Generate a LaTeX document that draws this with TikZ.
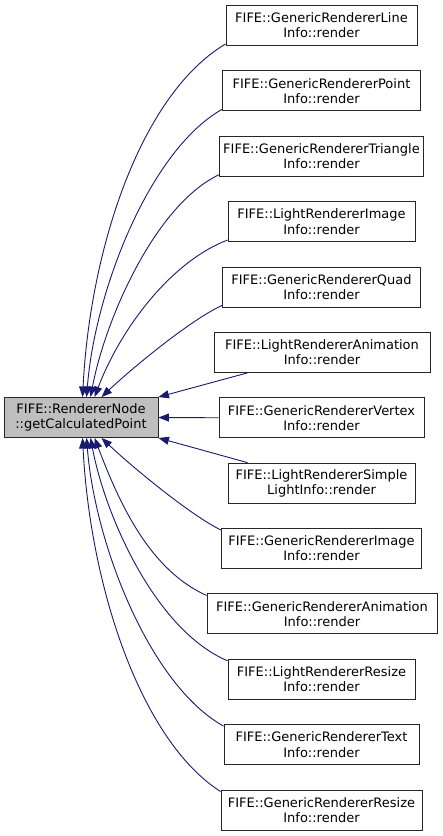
\documentclass[tikz,border=0pt]{standalone}
\usepackage{fontspec}
\setmainfont{DejaVu Sans}
\usetikzlibrary{arrows.meta}
\definecolor{edgecol}{HTML}{191970}
\definecolor{rootfill}{HTML}{BFBFBF}
\tikzset{
  box/.style={draw=black!85, line width=0.9pt, fill=white, align=center,
    minimum height=40pt, inner xsep=2pt, inner ysep=2pt,
    font=\fontsize{13}{15.2}\selectfont},
  rootbox/.style={box, fill=rootfill},
  edge/.style={draw=edgecol, line width=0.9pt,
    -{Triangle[length=10.5pt,width=8pt]}},
}
\begin{document}
\begin{tikzpicture}[x=1pt,y=-1pt]
\useasboundingbox (0,0) rectangle (443,836);
\node[rootbox, minimum width=154pt] (root) at (81,417.5) {FIFE::RendererNode\\::getCalculatedPoint};
\node[box, minimum width=191pt] (n1)  at (321.5,25.5)  {FIFE::GenericRendererLine\\Info::render};
\node[box, minimum width=198pt] (n2)  at (321.5,90.9)  {FIFE::GenericRendererPoint\\Info::render};
\node[box, minimum width=204pt] (n3)  at (321.5,156.25) {FIFE::GenericRendererTriangle\\Info::render};
\node[box, minimum width=187pt] (n4)  at (321.5,221.6) {FIFE::LightRendererImage\\Info::render};
\node[box, minimum width=198pt] (n5)  at (321.5,287)   {FIFE::GenericRendererQuad\\Info::render};
\node[box, minimum width=216pt] (n6)  at (322,352.4)   {FIFE::LightRendererAnimation\\Info::render};
\node[box, minimum width=205pt] (n7)  at (321.5,417.75) {FIFE::GenericRendererVertex\\Info::render};
\node[box, minimum width=187pt] (n8)  at (321.5,483.1) {FIFE::LightRendererSimple\\LightInfo::render};
\node[box, minimum width=200pt] (n9)  at (321.5,548.5) {FIFE::GenericRendererImage\\Info::render};
\node[box, minimum width=230pt] (n10) at (322,613.9)   {FIFE::GenericRendererAnimation\\Info::render};
\node[box, minimum width=187pt] (n11) at (321.5,679.25) {FIFE::LightRendererResize\\Info::render};
\node[box, minimum width=195pt] (n12) at (321.5,744.6) {FIFE::GenericRendererText\\Info::render};
\node[box, minimum width=201pt] (n13) at (321.5,810)   {FIFE::GenericRendererResize\\Info::render};

\draw[edge] ([yshift=2pt]n1.south west) .. controls (140,95) and (90,250) .. ([xshift=79pt]root.north west);
\draw[edge] ([yshift=2pt]n2.south west) .. controls (150,150) and (95,290) .. ([xshift=83pt]root.north west);
\draw[edge] ([yshift=2pt]n3.south west) .. controls (155,205) and (105,320) .. ([xshift=87pt]root.north west);
\draw[edge] ([yshift=2pt]n4.south west) .. controls (170,262) and (120,330) .. ([xshift=91pt]root.north west);
\draw[edge] ([yshift=2pt]n5.south west) .. controls (190,320) and (130,370) .. ([xshift=98pt]root.north west);
\draw[edge] ([xshift=34pt]n6.south west) -- (root.north east);
\draw[edge] (n7.west) -- (root.east);
\draw[edge] ([xshift=20pt]n8.north west) -- (root.south east);
\draw[edge] ([yshift=-2pt]n9.north west) .. controls (190,515) and (130,465) .. ([xshift=98pt]root.south west);
\draw[edge] ([yshift=-2pt]n10.north west) .. controls (150,570) and (120,505) .. ([xshift=91pt]root.south west);
\draw[edge] ([yshift=-2pt]n11.north west) .. controls (155,630) and (105,515) .. ([xshift=87pt]root.south west);
\draw[edge] ([yshift=-2pt]n12.north west) .. controls (150,685) and (95,545) .. ([xshift=83pt]root.south west);
\draw[edge] ([yshift=-2pt]n13.north west) .. controls (140,740) and (90,585) .. ([xshift=79pt]root.south west);
\end{tikzpicture}
\end{document}
